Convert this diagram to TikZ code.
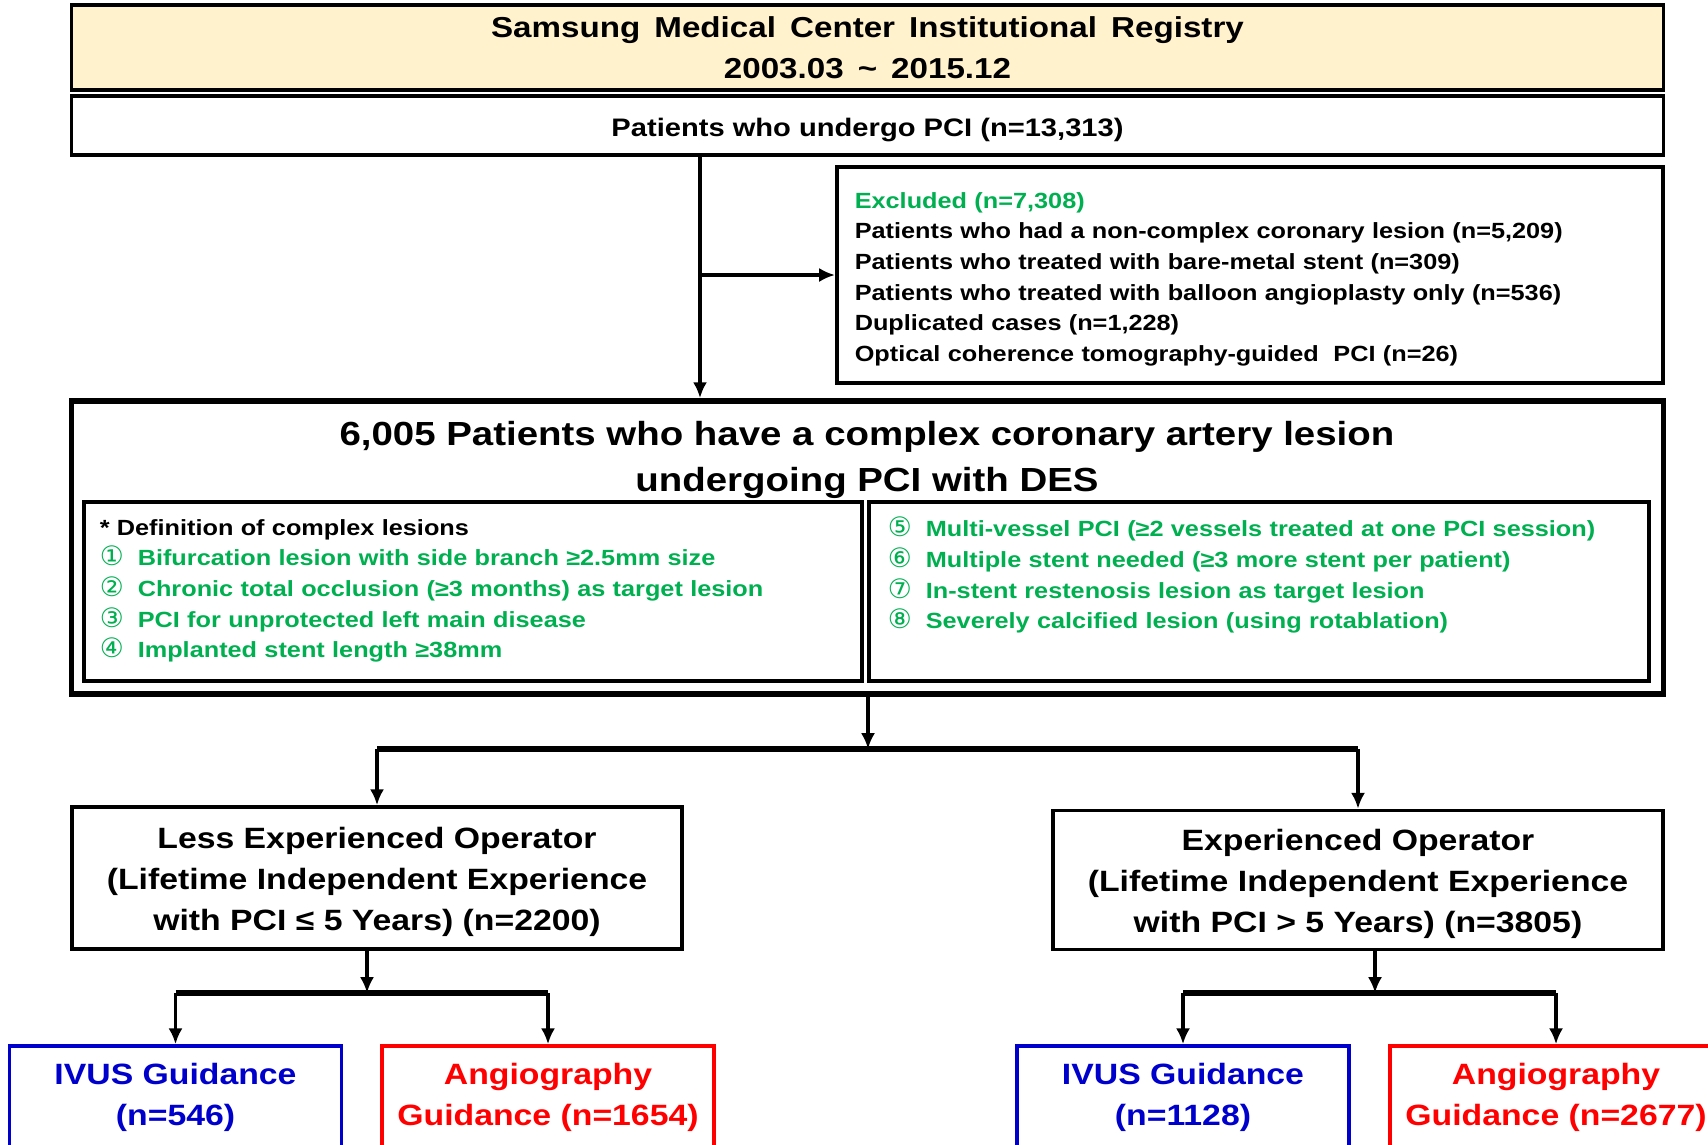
\documentclass[tikz,border=0pt]{standalone}
\usepackage{fontspec}
\setmainfont{Liberation Sans}[FakeStretch=1.15]
\newfontfamily\circfont{DejaVu Sans}
\usetikzlibrary{arrows.meta}
\definecolor{regfill}{HTML}{FFF2CC}
\definecolor{exgreen}{HTML}{00B050}
\definecolor{ivblue}{HTML}{0000CC}
\definecolor{agred}{HTML}{FF0000}
\tikzset{
    box/.style={draw, line width=1pt, inner sep=0pt, align=center, font=\bfseries},
    arr/.style={line width=0.9pt, -{Latex[length=4.5pt,width=4pt]}},
    bar/.style={line width=1.5pt},
    smalltxt/.style={font=\bfseries\fontsize{6.25}{8.73}\selectfont},
    optxt/.style={font=\bfseries\fontsize{8.35}{11.7}\selectfont},
}
\newcommand{\circnum}[1]{\makebox[0.38cm][l]{\circfont\mdseries\fontsize{7.6}{8.73}\selectfont #1}}
\newcommand{\lnstrut}{\rule[-1.8pt]{0pt}{6.4pt}}
\newcommand{\widespace}{\spaceskip=4pt\relax}
\begin{document}
\begin{tikzpicture}[x=0.01cm,y=-0.01cm]
            \useasboundingbox (0,0) rectangle (1708,1145);
            \clip (0,0) rectangle (1708,1145);
            % registry and all patients
            \node[box, fill=regfill, minimum width=15.91cm, minimum height=0.85cm,
                  font=\bfseries\fontsize{8.2}{11.7}\selectfont\widespace] (reg) at (867.5,47.5)
                {Samsung Medical Center Institutional Registry\\2003.03 \textasciitilde{} 2015.12};
            \node[box, minimum width=15.91cm, minimum height=0.59cm, font=\bfseries\fontsize{7.2}{11.7}\selectfont] (pat) at (867.5,125.5)
                {\rule{0pt}{7.8pt}Patients who undergo PCI (n=13,313)};
            % excluded
            \node[box, smalltxt, align=left, text width=7.9cm, minimum width=8.26cm, minimum height=2.16cm] (excl) at (1250,275)
                {\rule{0pt}{6.9pt}\textcolor{exgreen}{Excluded (n=7,308)}\\
                 Patients who had a non-complex coronary lesion (n=5,209)\\
                 Patients who treated with bare-metal stent (n=309)\\
                 Patients who treated with balloon angioplasty only (n=536)\\
                 Duplicated cases (n=1,228)\\
                 Optical coherence tomography-guided\ \ PCI (n=26)};
            % complex lesions
            \node[draw, line width=1.6pt, minimum width=15.91cm, minimum height=2.93cm] (main) at (867.5,547.5) {};
            \node[align=center, font=\bfseries\fontsize{9.5}{13.1}\selectfont] (maintitle) at (867,459.5)
                {6,005 Patients who have a complex coronary artery lesion\\undergoing PCI with DES};
            \node[box, smalltxt, align=left, text width=7.46cm, minimum width=7.78cm, minimum height=1.79cm] (defl) at (473,591.5)
                {\lnstrut* Definition of complex lesions\\
                 \textcolor{exgreen}{\circnum{①}Bifurcation lesion with side branch ≥2.5mm size}\\
                 \textcolor{exgreen}{\circnum{②}Chronic total occlusion (≥3 months) as target lesion}\\
                 \textcolor{exgreen}{\circnum{③}PCI for unprotected left main disease}\\
                 \textcolor{exgreen}{\circnum{④}Implanted stent length ≥38mm}\lnstrut};
            \node[box, smalltxt, align=left, text width=7.42cm, minimum width=7.80cm, minimum height=1.79cm] (defr) at (1259,591.5)
                {\lnstrut\textcolor{exgreen}{\circnum{⑤}Multi-vessel PCI (≥2 vessels treated at one PCI session)}\\
                 \textcolor{exgreen}{\circnum{⑥}Multiple stent needed (≥3 more stent per patient)}\\
                 \textcolor{exgreen}{\circnum{⑦}In-stent restenosis lesion as target lesion}\\
                 \textcolor{exgreen}{\circnum{⑧}Severely calcified lesion (using rotablation)}\\
                 \lnstrut};
            % operators
            \node[box, optxt, minimum width=6.10cm, minimum height=1.42cm] (less) at (377,878)
                {\rule{0pt}{8.3pt}Less Experienced Operator\\(Lifetime Independent Experience\\with PCI ≤ 5 Years) (n=2200)};
            \node[box, optxt, minimum width=6.10cm, minimum height=1.39cm] (exp) at (1358,880)
                {\rule{0pt}{8.3pt}Experienced Operator\\(Lifetime Independent Experience\\with PCI > 5 Years) (n=3805)};
            % guidance groups
            \foreach \n/\x/\c/\t in {ivusl/175.5/ivblue/{IVUS Guidance\\(n=546)},
                                     angl/548/agred/{Angiography\\Guidance (n=1654)},
                                     ivusr/1183/ivblue/{IVUS Guidance\\(n=1128)},
                                     angr/1556/agred/{Angiography\\Guidance (n=2677)}}
            {
                \node[box, optxt, draw=\c, text=\c, minimum width=3.32cm, minimum height=1.03cm] (\n) at (\x,1097.5) {\t};
            }
            % connectors
            \coordinate (split) at (700,275);
            \draw[arr] (pat.south -| split) -- (main.north -| split);
            \draw[arr] (split) -- (excl.west);
            \coordinate (fork) at (868,749);
            \draw[arr] (main.south -| fork) -- (fork);
            \draw[bar] (less.north |- fork) -- (exp.north |- fork);
            \draw[arr] (less.north |- fork) -- (less.north);
            \draw[arr] (exp.north |- fork) -- (exp.north);
            \coordinate (forkl) at (367,993);
            \draw[arr] (less.south -| forkl) -- (forkl);
            \draw[bar] (ivusl.north |- forkl) -- (angl.north |- forkl);
            \draw[arr] (ivusl.north |- forkl) -- (ivusl.north);
            \draw[arr] (angl.north |- forkl) -- (angl.north);
            \coordinate (forkr) at (1375,993);
            \draw[arr] (exp.south -| forkr) -- (forkr);
            \draw[bar] (ivusr.north |- forkr) -- (angr.north |- forkr);
            \draw[arr] (ivusr.north |- forkr) -- (ivusr.north);
            \draw[arr] (angr.north |- forkr) -- (angr.north);
\end{tikzpicture}
\end{document}
